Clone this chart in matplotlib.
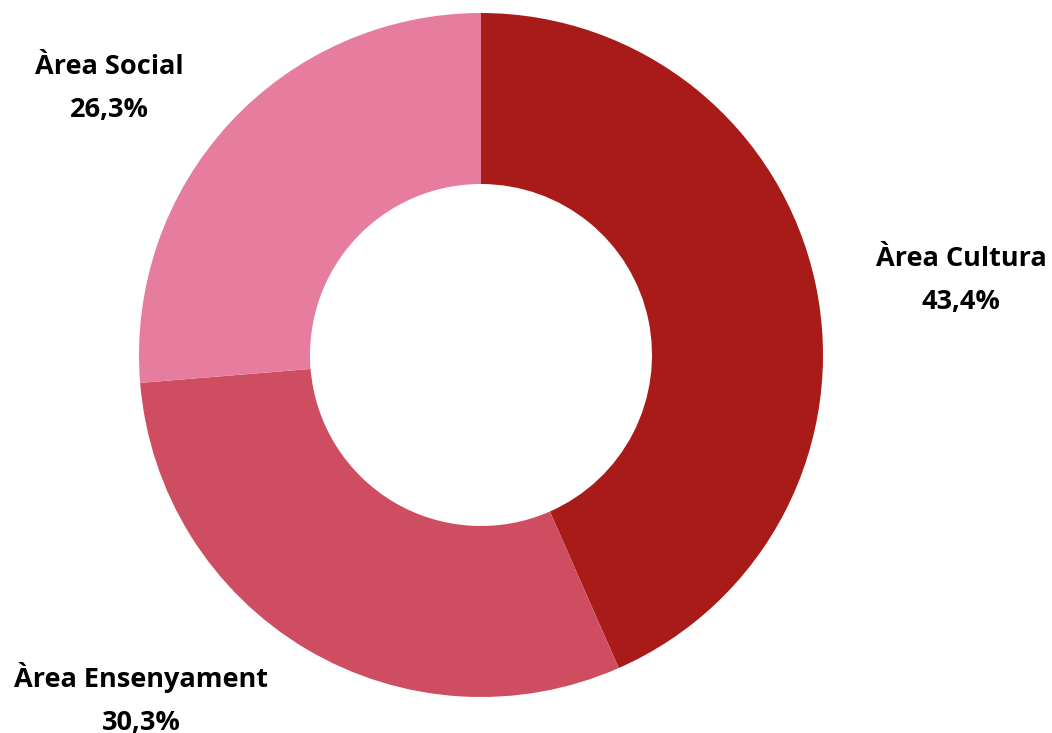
import matplotlib.pyplot as plt

labels = ["Àrea Cultura", "Àrea Ensenyament", "Àrea Social"]
values = [43.4, 30.3, 26.3]
colors = ["#A91B18", "#CF4D60", "#E67D9E"]
# label anchor points in pixels (x, y from top)
label_pos = [(961, 280), (141, 699), (109, 88)]

W, H = 1052, 733

fig = plt.figure(figsize=(W / 100, H / 100), dpi=100)
ax = fig.add_axes([0, 0, 1, 1])

ax.pie(values, colors=colors, startangle=90, counterclock=False,
       center=(481, H - 355), radius=342,
       wedgeprops=dict(width=171, edgecolor="none"))

# pie() resets the limits, so set them afterwards
ax.set_xlim(0, W)
ax.set_ylim(0, H)
ax.set_aspect("equal")
ax.axis("off")

for lab, val, (x, y) in zip(labels, values, label_pos):
    txt = lab + "\n" + f"{val:.1f}".replace(".", ",") + "%"
    ax.text(x, H - y, txt, ha="center", va="center", fontsize=19.5,
            fontfamily="Open Sans", fontweight="bold", fontstretch="normal",
            linespacing=1.85, color="black")

fig.savefig("out.png", dpi=100)
